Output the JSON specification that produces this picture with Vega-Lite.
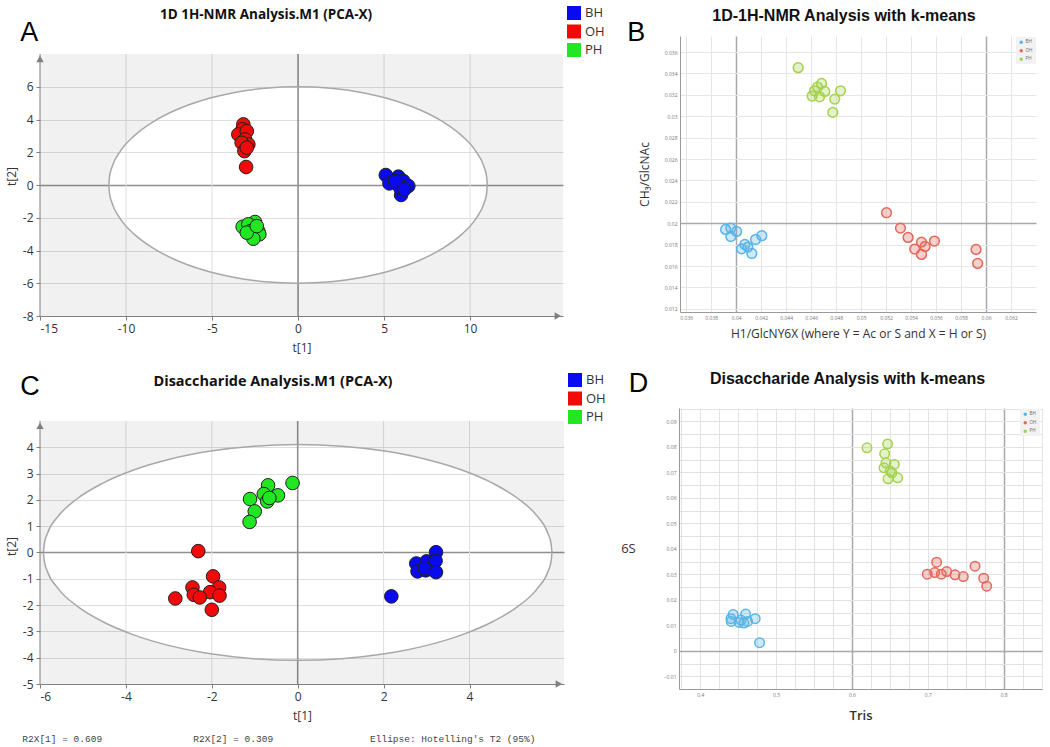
{
  "$schema": "https://vega.github.io/schema/vega-lite/v6.json",
  "padding": {"left": 5, "top": 6, "right": 4, "bottom": 2},
  "config": {
    "view": {"stroke": null},
    "font": "Open Sans",
    "axis": {"labelFont": "Open Sans", "titleFont": "Open Sans", "labelOverlap": false}
  },
  "title": {
    "text": "R2X[1] = 0.609\u00a0\u00a0\u00a0\u00a0\u00a0\u00a0\u00a0\u00a0\u00a0\u00a0\u00a0\u00a0\u00a0\u00a0\u00a0\u00a0R2X[2] = 0.309\u00a0\u00a0\u00a0\u00a0\u00a0\u00a0\u00a0\u00a0\u00a0\u00a0\u00a0\u00a0\u00a0\u00a0\u00a0\u00a0\u00a0Ellipse: Hotelling's T2 (95%)",
    "orient": "bottom", "anchor": "start", "font": "Liberation Mono", "fontSize": 9.5,
    "fontWeight": "normal", "color": "#444444", "offset": 12, "dx": 17
  },
  "datasets": {
    "pcaA": [
      {"g": "OH", "t1": -3.18, "t2": 3.70}, {"g": "OH", "t1": -3.22, "t2": 3.40}, {"g": "OH", "t1": -3.47, "t2": 3.09},
      {"g": "OH", "t1": -2.98, "t2": 3.29}, {"g": "OH", "t1": -3.08, "t2": 2.78}, {"g": "OH", "t1": -2.89, "t2": 2.48},
      {"g": "OH", "t1": -3.28, "t2": 2.58}, {"g": "OH", "t1": -3.12, "t2": 2.07}, {"g": "OH", "t1": -2.98, "t2": 2.28},
      {"g": "OH", "t1": -3.02, "t2": 1.10},
      {"g": "PH", "t1": -2.50, "t2": -2.26}, {"g": "PH", "t1": -3.22, "t2": -2.55}, {"g": "PH", "t1": -2.89, "t2": -2.40},
      {"g": "PH", "t1": -2.31, "t2": -2.81}, {"g": "PH", "t1": -2.75, "t2": -2.81}, {"g": "PH", "t1": -2.25, "t2": -3.01},
      {"g": "PH", "t1": -2.60, "t2": -3.28}, {"g": "PH", "t1": -2.98, "t2": -2.91}, {"g": "PH", "t1": -2.40, "t2": -2.51},
      {"g": "BH", "t1": 5.10, "t2": 0.61}, {"g": "BH", "t1": 5.31, "t2": 0.10}, {"g": "BH", "t1": 5.83, "t2": 0.51},
      {"g": "BH", "t1": 6.12, "t2": 0.24}, {"g": "BH", "t1": 6.41, "t2": -0.06}, {"g": "BH", "t1": 5.99, "t2": -0.61},
      {"g": "BH", "t1": 5.93, "t2": -0.17}, {"g": "BH", "t1": 5.64, "t2": 0.24}, {"g": "BH", "t1": 6.18, "t2": -0.27}
    ],
    "pcaC": [
      {"g": "PH", "t1": -0.12, "t2": 2.64}, {"g": "PH", "t1": -0.69, "t2": 2.55}, {"g": "PH", "t1": -0.79, "t2": 2.22},
      {"g": "PH", "t1": -0.46, "t2": 2.17}, {"g": "PH", "t1": -0.71, "t2": 1.94}, {"g": "PH", "t1": -0.66, "t2": 2.07},
      {"g": "PH", "t1": -1.11, "t2": 2.03}, {"g": "PH", "t1": -1.00, "t2": 1.56}, {"g": "PH", "t1": -1.12, "t2": 1.16},
      {"g": "OH", "t1": -2.315, "t2": 0.05}, {"g": "OH", "t1": -1.97, "t2": -0.91}, {"g": "OH", "t1": -2.45, "t2": -1.33},
      {"g": "OH", "t1": -1.83, "t2": -1.33}, {"g": "OH", "t1": -2.04, "t2": -1.51}, {"g": "OH", "t1": -2.42, "t2": -1.61},
      {"g": "OH", "t1": -2.28, "t2": -1.71}, {"g": "OH", "t1": -1.82, "t2": -1.64}, {"g": "OH", "t1": -2.85, "t2": -1.75},
      {"g": "OH", "t1": -2.00, "t2": -2.18},
      {"g": "BH", "t1": 3.22, "t2": 0.01}, {"g": "BH", "t1": 2.76, "t2": -0.42}, {"g": "BH", "t1": 3.00, "t2": -0.34},
      {"g": "BH", "t1": 3.21, "t2": -0.32}, {"g": "BH", "t1": 2.79, "t2": -0.72}, {"g": "BH", "t1": 2.98, "t2": -0.68},
      {"g": "BH", "t1": 2.96, "t2": -0.60}, {"g": "BH", "t1": 3.22, "t2": -0.75}, {"g": "BH", "t1": 2.18, "t2": -1.67}
    ],
    "kmB": [
      {"g": "PH", "h1": 0.04496, "ch3": 0.03454}, {"g": "PH", "h1": 0.04683, "ch3": 0.03307}, {"g": "PH", "h1": 0.04651, "ch3": 0.03273},
      {"g": "PH", "h1": 0.04627, "ch3": 0.03238}, {"g": "PH", "h1": 0.04709, "ch3": 0.03232}, {"g": "PH", "h1": 0.04835, "ch3": 0.03238},
      {"g": "PH", "h1": 0.04608, "ch3": 0.03189}, {"g": "PH", "h1": 0.04667, "ch3": 0.03182}, {"g": "PH", "h1": 0.04789, "ch3": 0.03160},
      {"g": "PH", "h1": 0.04773, "ch3": 0.03036},
      {"g": "BH", "h1": 0.03915, "ch3": 0.01942}, {"g": "BH", "h1": 0.03957, "ch3": 0.01954}, {"g": "BH", "h1": 0.04003, "ch3": 0.01923},
      {"g": "BH", "h1": 0.03957, "ch3": 0.01876}, {"g": "BH", "h1": 0.04069, "ch3": 0.01801}, {"g": "BH", "h1": 0.04043, "ch3": 0.01761},
      {"g": "BH", "h1": 0.04093, "ch3": 0.01777}, {"g": "BH", "h1": 0.04125, "ch3": 0.01717}, {"g": "BH", "h1": 0.04155, "ch3": 0.01848},
      {"g": "BH", "h1": 0.04205, "ch3": 0.01883},
      {"g": "OH", "h1": 0.05203, "ch3": 0.02098}, {"g": "OH", "h1": 0.05315, "ch3": 0.01954}, {"g": "OH", "h1": 0.05376, "ch3": 0.01867},
      {"g": "OH", "h1": 0.05483, "ch3": 0.01823}, {"g": "OH", "h1": 0.05587, "ch3": 0.01833}, {"g": "OH", "h1": 0.05429, "ch3": 0.01758},
      {"g": "OH", "h1": 0.05512, "ch3": 0.01783}, {"g": "OH", "h1": 0.05483, "ch3": 0.01708}, {"g": "OH", "h1": 0.05920, "ch3": 0.01755},
      {"g": "OH", "h1": 0.05933, "ch3": 0.01624}
    ],
    "kmD": [
      {"g": "PH", "tris": 0.6198, "s6": 0.07957}, {"g": "PH", "tris": 0.6470, "s6": 0.08113}, {"g": "PH", "tris": 0.6431, "s6": 0.07722},
      {"g": "PH", "tris": 0.6448, "s6": 0.07370}, {"g": "PH", "tris": 0.6558, "s6": 0.07305}, {"g": "PH", "tris": 0.6422, "s6": 0.07175},
      {"g": "PH", "tris": 0.6505, "s6": 0.07044}, {"g": "PH", "tris": 0.6527, "s6": 0.06979}, {"g": "PH", "tris": 0.6475, "s6": 0.06744},
      {"g": "PH", "tris": 0.6602, "s6": 0.06784},
      {"g": "OH", "tris": 0.7116, "s6": 0.03472}, {"g": "OH", "tris": 0.6993, "s6": 0.03003}, {"g": "OH", "tris": 0.7090, "s6": 0.03068},
      {"g": "OH", "tris": 0.7178, "s6": 0.03003}, {"g": "OH", "tris": 0.7248, "s6": 0.03107}, {"g": "OH", "tris": 0.7358, "s6": 0.02977},
      {"g": "OH", "tris": 0.7468, "s6": 0.02911}, {"g": "OH", "tris": 0.7622, "s6": 0.03316}, {"g": "OH", "tris": 0.7736, "s6": 0.02846},
      {"g": "OH", "tris": 0.7776, "s6": 0.02533},
      {"g": "BH", "tris": 0.4435, "s6": 0.01425}, {"g": "BH", "tris": 0.4598, "s6": 0.01438}, {"g": "BH", "tris": 0.4404, "s6": 0.01256},
      {"g": "BH", "tris": 0.4409, "s6": 0.01151}, {"g": "BH", "tris": 0.4536, "s6": 0.01203}, {"g": "BH", "tris": 0.4510, "s6": 0.01112},
      {"g": "BH", "tris": 0.4576, "s6": 0.01086}, {"g": "BH", "tris": 0.4624, "s6": 0.01151}, {"g": "BH", "tris": 0.4725, "s6": 0.01256},
      {"g": "BH", "tris": 0.4782, "s6": 0.00317}
    ],
    "ellA": [
      {"half": "up", "t1": -15, "t2": 0}, {"half": "up", "t1": -11, "t2": 0}, {"half": "up", "t1": -10.958, "t2": 0.523},
      {"half": "up", "t1": -10.833, "t2": 1.042}, {"half": "up", "t1": -10.337, "t2": 2.052}, {"half": "up", "t1": -9.526, "t2": 3.0},
      {"half": "up", "t1": -8.426, "t2": 3.857}, {"half": "up", "t1": -7.071, "t2": 4.596}, {"half": "up", "t1": -5.5, "t2": 5.196},
      {"half": "up", "t1": -3.762, "t2": 5.638}, {"half": "up", "t1": -1.91, "t2": 5.909}, {"half": "up", "t1": 0, "t2": 6},
      {"half": "up", "t1": 1.91, "t2": 5.909}, {"half": "up", "t1": 3.762, "t2": 5.638}, {"half": "up", "t1": 5.5, "t2": 5.196},
      {"half": "up", "t1": 7.071, "t2": 4.596}, {"half": "up", "t1": 8.426, "t2": 3.857}, {"half": "up", "t1": 9.526, "t2": 3.0},
      {"half": "up", "t1": 10.337, "t2": 2.052}, {"half": "up", "t1": 10.833, "t2": 1.042}, {"half": "up", "t1": 10.958, "t2": 0.523},
      {"half": "up", "t1": 11, "t2": 0}, {"half": "up", "t1": 15.4, "t2": 0},
      {"half": "lo", "t1": -15, "t2": 0}, {"half": "lo", "t1": -11, "t2": 0}, {"half": "lo", "t1": -10.958, "t2": -0.523},
      {"half": "lo", "t1": -10.833, "t2": -1.042}, {"half": "lo", "t1": -10.337, "t2": -2.052}, {"half": "lo", "t1": -9.526, "t2": -3.0},
      {"half": "lo", "t1": -8.426, "t2": -3.857}, {"half": "lo", "t1": -7.071, "t2": -4.596}, {"half": "lo", "t1": -5.5, "t2": -5.196},
      {"half": "lo", "t1": -3.762, "t2": -5.638}, {"half": "lo", "t1": -1.91, "t2": -5.909}, {"half": "lo", "t1": 0, "t2": -6},
      {"half": "lo", "t1": 1.91, "t2": -5.909}, {"half": "lo", "t1": 3.762, "t2": -5.638}, {"half": "lo", "t1": 5.5, "t2": -5.196},
      {"half": "lo", "t1": 7.071, "t2": -4.596}, {"half": "lo", "t1": 8.426, "t2": -3.857}, {"half": "lo", "t1": 9.526, "t2": -3.0},
      {"half": "lo", "t1": 10.337, "t2": -2.052}, {"half": "lo", "t1": 10.833, "t2": -1.042}, {"half": "lo", "t1": 10.958, "t2": -0.523},
      {"half": "lo", "t1": 11, "t2": 0}, {"half": "lo", "t1": 15.4, "t2": 0}
    ],
    "ellC": [
      {"half": "up", "t1": -6, "t2": 0}, {"half": "up", "t1": -5.92, "t2": 0}, {"half": "up", "t1": -5.897, "t2": 0.357},
      {"half": "up", "t1": -5.83, "t2": 0.712}, {"half": "up", "t1": -5.563, "t2": 1.402}, {"half": "up", "t1": -5.127, "t2": 2.05},
      {"half": "up", "t1": -4.535, "t2": 2.635}, {"half": "up", "t1": -3.805, "t2": 3.141}, {"half": "up", "t1": -2.96, "t2": 3.551},
      {"half": "up", "t1": -2.025, "t2": 3.853}, {"half": "up", "t1": -1.028, "t2": 4.038}, {"half": "up", "t1": 0, "t2": 4.1},
      {"half": "up", "t1": 1.028, "t2": 4.038}, {"half": "up", "t1": 2.025, "t2": 3.853}, {"half": "up", "t1": 2.96, "t2": 3.551},
      {"half": "up", "t1": 3.805, "t2": 3.141}, {"half": "up", "t1": 4.535, "t2": 2.635}, {"half": "up", "t1": 5.127, "t2": 2.05},
      {"half": "up", "t1": 5.563, "t2": 1.402}, {"half": "up", "t1": 5.83, "t2": 0.712}, {"half": "up", "t1": 5.897, "t2": 0.357},
      {"half": "up", "t1": 5.92, "t2": 0}, {"half": "up", "t1": 6.2, "t2": 0},
      {"half": "lo", "t1": -6, "t2": 0}, {"half": "lo", "t1": -5.92, "t2": 0}, {"half": "lo", "t1": -5.897, "t2": -0.357},
      {"half": "lo", "t1": -5.83, "t2": -0.712}, {"half": "lo", "t1": -5.563, "t2": -1.402}, {"half": "lo", "t1": -5.127, "t2": -2.05},
      {"half": "lo", "t1": -4.535, "t2": -2.635}, {"half": "lo", "t1": -3.805, "t2": -3.141}, {"half": "lo", "t1": -2.96, "t2": -3.551},
      {"half": "lo", "t1": -2.025, "t2": -3.853}, {"half": "lo", "t1": -1.028, "t2": -4.038}, {"half": "lo", "t1": 0, "t2": -4.1},
      {"half": "lo", "t1": 1.028, "t2": -4.038}, {"half": "lo", "t1": 2.025, "t2": -3.853}, {"half": "lo", "t1": 2.96, "t2": -3.551},
      {"half": "lo", "t1": 3.805, "t2": -3.141}, {"half": "lo", "t1": 4.535, "t2": -2.635}, {"half": "lo", "t1": 5.127, "t2": -2.05},
      {"half": "lo", "t1": 5.563, "t2": -1.402}, {"half": "lo", "t1": 5.83, "t2": -0.712}, {"half": "lo", "t1": 5.897, "t2": -0.357},
      {"half": "lo", "t1": 5.92, "t2": 0}, {"half": "lo", "t1": 6.2, "t2": 0}
    ],
    "gridA": [
      {"t1": -10, "t2": -8, "t2e": 8}, {"t1": -5, "t2": -8, "t2e": 8}, {"t1": 0, "t2": -8, "t2e": 8},
      {"t1": 5, "t2": -8, "t2e": 8}, {"t1": 10, "t2": -8, "t2e": 8}
    ],
    "axisA": [{"t1": -15, "t2": -8, "t2e": 8}],
    "arrowA": [{"dir": "up", "t1": -15, "t2": 7.7}, {"dir": "right", "t1": 15.1, "t2": -8}],
    "gridC": [
      {"t1": -4, "t2": -5, "t2e": 5}, {"t1": -2, "t2": -5, "t2e": 5}, {"t1": 0, "t2": -5, "t2e": 5},
      {"t1": 2, "t2": -5, "t2e": 5}, {"t1": 4, "t2": -5, "t2e": 5}
    ],
    "axisC": [{"t1": -6, "t2": -5, "t2e": 5}],
    "arrowC": [{"dir": "up", "t1": -6, "t2": 4.81}, {"dir": "right", "t1": 6.08, "t2": -5}]
  },
  "resolve": {"scale": {"x": "independent", "y": "independent", "color": "independent", "fill": "independent", "stroke": "independent", "shape": "independent"}},
  "spacing": 16,
  "vconcat": [
    {
      "columns": 2, "align": "none", "spacing": 22,
      "resolve": {"scale": {"x": "independent", "y": "independent", "color": "independent", "fill": "independent", "stroke": "independent", "shape": "independent"}},
      "concat": [
        {
          "title": {"text": "A", "anchor": "start", "font": "Liberation Sans", "fontSize": 27, "fontWeight": "normal", "color": "#000000", "offset": -41, "dx": 15},
          "vconcat": [
            {
              "width": 523, "height": 280,
              "title": {"text": "1D 1H-NMR Analysis.M1 (PCA-X)", "font": "Open Sans", "fontSize": 13.5, "fontWeight": "bold", "color": "#111111", "anchor": "start", "frame": "group", "offset": 15, "dx": 120},
              "encoding": {
                "x": {"field": "t1", "type": "quantitative", "title": "t[1]",
                  "scale": {"domain": [-15, 15.4], "nice": false, "zero": false},
                  "axis": {"values": [-15, -10, -5, 0, 5, 10], "labelExpr": "'' + datum.value", "grid": false, "labelFontSize": 12, "labelColor": "#333333", "titleFontSize": 12, "titleFontWeight": "normal", "titleColor": "#333333", "titlePadding": 8,
                    "domainColor": "#7f7f7f", "tickColor": "#7f7f7f", "tickSize": 4, "labelPadding": 3}},
                "y": {"field": "t2", "type": "quantitative", "title": "t[2]",
                  "scale": {"domain": [-8, 9.1], "nice": false, "zero": false},
                  "axis": {"values": [-8, -6, -4, -2, 0, 2, 4, 6], "labelExpr": "'' + datum.value", "domain": false, "labelFontSize": 12, "labelColor": "#333333", "titleFontSize": 12, "titleFontWeight": "normal", "titleColor": "#333333", "titlePadding": 4,
                    "tickColor": "#7f7f7f", "tickSize": 4, "labelPadding": 3,
                    "gridColor": {"condition": {"test": "datum.value === 0", "value": "#8f8f8f"}, "value": "#dedede"},
                    "gridWidth": {"condition": {"test": "datum.value === 0", "value": 1.6}, "value": 1}}}
              },
              "layer": [
                {
                  "data": {"name": "gridA"},
                  "mark": {"type": "rule"},
                  "encoding": {
                    "y2": {"field": "t2e"},
                    "color": {"condition": {"test": "datum.t1 === 0", "value": "#8f8f8f"}, "value": "#dedede"},
                    "strokeWidth": {"condition": {"test": "datum.t1 === 0", "value": 1.6}, "value": 1}
                  }
                },
                {
                  "data": {"name": "ellA"},
                  "transform": [{"filter": "datum.half === 'up'"}],
                  "mark": {"type": "area", "interpolate": "monotone", "fill": "#000000", "fillOpacity": 0.055},
                  "encoding": {"y2": {"datum": 8}}
                },
                {
                  "data": {"name": "ellA"},
                  "transform": [{"filter": "datum.half === 'lo'"}],
                  "mark": {"type": "area", "interpolate": "monotone", "fill": "#000000", "fillOpacity": 0.055},
                  "encoding": {"y2": {"datum": -8}}
                },
                {
                  "data": {"name": "ellA"},
                  "transform": [{"filter": "abs(datum.t1) <= 11"}],
                  "mark": {"type": "line", "interpolate": "monotone", "stroke": "#a8a8a8", "strokeWidth": 1.5},
                  "encoding": {"detail": {"field": "half", "type": "nominal"}}
                },
                {
                  "data": {"name": "axisA"},
                  "mark": {"type": "rule", "color": "#7f7f7f", "strokeWidth": 1},
                  "encoding": {"y2": {"field": "t2e"}}
                },
                {
                  "data": {"name": "arrowA"},
                  "mark": {"type": "point", "filled": true, "color": "#7f7f7f", "size": 55, "opacity": 1},
                  "encoding": {"shape": {"field": "dir", "type": "nominal", "scale": {"domain": ["up", "right"], "range": ["triangle-up", "triangle-right"]}, "legend": null}}
                },
                {
                  "data": {"name": "pcaA"},
                  "mark": {"type": "point", "shape": "circle", "filled": true, "size": 185, "stroke": "#1f1f1f", "strokeWidth": 1, "opacity": 1},
                  "encoding": {
                    "color": {"field": "g", "type": "nominal",
                      "scale": {"domain": ["BH", "OH", "PH"], "range": ["#0a0af0", "#f00a0a", "#22e622"]},
                      "legend": {"orient": "none", "legendX": 527, "legendY": -30, "title": null, "symbolType": "square", "symbolSize": 196, "symbolStrokeWidth": 0, "labelFontSize": 13, "labelFont": "Open Sans", "labelColor": "#333333", "rowPadding": 4.5, "padding": 0, "labelOffset": 4}}
                  }
                }
              ]
            }
          ]
        },
        {
          "title": {"text": "B", "anchor": "start", "font": "Liberation Sans", "fontSize": 27, "fontWeight": "normal", "color": "#000000", "offset": -39, "dx": -11},
          "vconcat": [
            {
              "width": 356, "height": 276,
              "title": {"text": "1D-1H-NMR Analysis with k-means", "font": "Liberation Sans", "fontSize": 16, "fontWeight": "bold", "color": "#111111", "anchor": "middle", "frame": "group", "offset": 12, "dx": -14},
              "data": {"name": "kmB"},
              "mark": {"type": "point", "shape": "circle", "filled": true, "size": 95, "strokeWidth": 1.5, "fillOpacity": 0.3},
              "encoding": {
                "x": {"field": "h1", "type": "quantitative", "title": "H1/GlcNY6X (where Y = Ac or S and X = H or S)",
                  "scale": {"domain": [0.0355, 0.064], "nice": false, "zero": false},
                  "axis": {"values": [0.036, 0.038, 0.04, 0.042, 0.044, 0.046, 0.048, 0.05, 0.052, 0.054, 0.056, 0.058, 0.06, 0.062],
                    "format": "~g", "labelFontSize": 5, "labelColor": "#777777", "ticks": false, "labelPadding": 3,
                    "domainColor": "#9a9a9a", "titleFontSize": 12, "titleFontWeight": "normal", "titleColor": "#333333", "titlePadding": 8,
                    "gridColor": {"condition": {"test": "datum.value === 0.04 || datum.value === 0.06", "value": "#a9a9a9"}, "value": "#e6e6e6"},
                    "gridWidth": {"condition": {"test": "datum.value === 0.04 || datum.value === 0.06", "value": 1.5}, "value": 1}}},
                "y": {"field": "ch3", "type": "quantitative", "title": "CH₃/GlcNAc",
                  "scale": {"domain": [0.0117, 0.0375], "nice": false, "zero": false},
                  "axis": {"values": [0.012, 0.014, 0.016, 0.018, 0.02, 0.022, 0.024, 0.026, 0.028, 0.03, 0.032, 0.034, 0.036],
                    "format": "~g", "labelFontSize": 5, "labelColor": "#777777", "ticks": false, "labelPadding": 3,
                    "domainColor": "#9a9a9a", "titleFontSize": 12, "titleFontWeight": "normal", "titleColor": "#333333", "titlePadding": 13,
                    "gridColor": {"condition": {"test": "datum.value === 0.02", "value": "#a9a9a9"}, "value": "#e6e6e6"},
                    "gridWidth": {"condition": {"test": "datum.value === 0.02", "value": 1.5}, "value": 1}}},
                "fill": {"field": "g", "type": "nominal",
                  "scale": {"domain": ["BH", "OH", "PH"], "range": ["#5ab4e6", "#e4675b", "#a4d24f"]},
                  "legend": {"orient": "none", "legendX": 336, "legendY": 1, "title": null, "symbolType": "circle", "symbolSize": 12, "symbolStrokeWidth": 0, "symbolOpacity": 1, "labelFontSize": 4.5, "labelColor": "#666666", "fillColor": "#f2f2f2", "padding": 3, "rowPadding": 3.5, "labelOffset": 2}},
                "stroke": {"field": "g", "type": "nominal",
                  "scale": {"domain": ["BH", "OH", "PH"], "range": ["#5ab4e6", "#e4675b", "#a4d24f"]},
                  "legend": null}
              }
            }
          ]
        }
      ]
    },
    {
      "columns": 2, "align": "none", "spacing": 14,
      "resolve": {"scale": {"x": "independent", "y": "independent", "color": "independent", "fill": "independent", "stroke": "independent", "shape": "independent"}},
      "concat": [
        {
          "title": {"text": "C", "anchor": "start", "font": "Liberation Sans", "fontSize": 27, "fontWeight": "normal", "color": "#000000", "offset": -28, "dx": 15},
          "vconcat": [
            {
              "width": 524, "height": 276,
              "title": {"text": "Disaccharide Analysis.M1 (PCA-X)", "font": "Open Sans", "fontSize": 14.5, "fontWeight": "bold", "color": "#111111", "anchor": "middle", "frame": "group", "offset": 19, "dx": -29},
              "encoding": {
                "x": {"field": "t1", "type": "quantitative", "title": "t[1]",
                  "scale": {"domain": [-6, 6.2], "nice": false, "zero": false},
                  "axis": {"values": [-6, -4, -2, 0, 2, 4], "labelExpr": "'' + datum.value", "grid": false, "labelFontSize": 12, "labelColor": "#333333", "titleFontSize": 12, "titleFontWeight": "normal", "titleColor": "#333333", "titlePadding": 8,
                    "domainColor": "#7f7f7f", "tickColor": "#7f7f7f", "tickSize": 4, "labelPadding": 3}},
                "y": {"field": "t2", "type": "quantitative", "title": "t[2]",
                  "scale": {"domain": [-5, 5.49], "nice": false, "zero": false},
                  "axis": {"values": [-5, -4, -3, -2, -1, 0, 1, 2, 3, 4], "labelExpr": "'' + datum.value", "domain": false, "labelFontSize": 12, "labelColor": "#333333", "titleFontSize": 12, "titleFontWeight": "normal", "titleColor": "#333333", "titlePadding": 4,
                    "tickColor": "#7f7f7f", "tickSize": 4, "labelPadding": 3,
                    "gridColor": {"condition": {"test": "datum.value === 0", "value": "#8f8f8f"}, "value": "#dedede"},
                    "gridWidth": {"condition": {"test": "datum.value === 0", "value": 1.6}, "value": 1}}}
              },
              "layer": [
                {
                  "data": {"name": "gridC"},
                  "mark": {"type": "rule"},
                  "encoding": {
                    "y2": {"field": "t2e"},
                    "color": {"condition": {"test": "datum.t1 === 0", "value": "#8f8f8f"}, "value": "#dedede"},
                    "strokeWidth": {"condition": {"test": "datum.t1 === 0", "value": 1.6}, "value": 1}
                  }
                },
                {
                  "data": {"name": "ellC"},
                  "transform": [{"filter": "datum.half === 'up'"}],
                  "mark": {"type": "area", "interpolate": "monotone", "fill": "#000000", "fillOpacity": 0.055},
                  "encoding": {"y2": {"datum": 5}}
                },
                {
                  "data": {"name": "ellC"},
                  "transform": [{"filter": "datum.half === 'lo'"}],
                  "mark": {"type": "area", "interpolate": "monotone", "fill": "#000000", "fillOpacity": 0.055},
                  "encoding": {"y2": {"datum": -5}}
                },
                {
                  "data": {"name": "ellC"},
                  "transform": [{"filter": "abs(datum.t1) <= 5.92"}],
                  "mark": {"type": "line", "interpolate": "monotone", "stroke": "#a8a8a8", "strokeWidth": 1.5},
                  "encoding": {"detail": {"field": "half", "type": "nominal"}}
                },
                {
                  "data": {"name": "axisC"},
                  "mark": {"type": "rule", "color": "#7f7f7f", "strokeWidth": 1},
                  "encoding": {"y2": {"field": "t2e"}}
                },
                {
                  "data": {"name": "arrowC"},
                  "mark": {"type": "point", "filled": true, "color": "#7f7f7f", "size": 55, "opacity": 1},
                  "encoding": {"shape": {"field": "dir", "type": "nominal", "scale": {"domain": ["up", "right"], "range": ["triangle-up", "triangle-right"]}, "legend": null}}
                },
                {
                  "data": {"name": "pcaC"},
                  "mark": {"type": "point", "shape": "circle", "filled": true, "size": 185, "stroke": "#1f1f1f", "strokeWidth": 1, "opacity": 1},
                  "encoding": {
                    "color": {"field": "g", "type": "nominal",
                      "scale": {"domain": ["BH", "OH", "PH"], "range": ["#0a0af0", "#f00a0a", "#22e622"]},
                      "legend": {"orient": "none", "legendX": 528, "legendY": -35, "title": null, "symbolType": "square", "symbolSize": 196, "symbolStrokeWidth": 0, "labelFontSize": 13, "labelFont": "Open Sans", "labelColor": "#333333", "rowPadding": 4.5, "padding": 0, "labelOffset": 4}}
                  }
                }
              ]
            }
          ]
        },
        {
          "title": {"text": "D", "anchor": "start", "font": "Liberation Sans", "fontSize": 27, "fontWeight": "normal", "color": "#000000", "offset": -27, "dx": 8},
          "vconcat": [
            {
              "width": 363, "height": 281,
              "title": {"text": "Disaccharide Analysis with k-means", "font": "Liberation Sans", "fontSize": 16, "fontWeight": "bold", "color": "#111111", "anchor": "middle", "frame": "group", "offset": 20, "dx": -13},
              "data": {"name": "kmD"},
              "mark": {"type": "point", "shape": "circle", "filled": true, "size": 90, "strokeWidth": 1.5, "fillOpacity": 0.3},
              "encoding": {
                "x": {"field": "tris", "type": "quantitative", "title": "Tris",
                  "scale": {"domain": [0.372, 0.8505], "nice": false, "zero": false},
                  "axis": {"values": [0.375, 0.4, 0.425, 0.45, 0.475, 0.5, 0.525, 0.55, 0.575, 0.6, 0.625, 0.65, 0.675, 0.7, 0.725, 0.75, 0.775, 0.8, 0.825, 0.85],
                    "format": "~g", "labelExpr": "abs(datum.value*10 - round(datum.value*10)) < 0.001 ? datum.label : ''",
                    "labelFontSize": 5, "labelColor": "#777777", "ticks": false, "labelPadding": 3,
                    "domainColor": "#9a9a9a", "titleFontSize": 13, "titleFontWeight": 600, "titleColor": "#333333", "titlePadding": 12,
                    "gridColor": {"condition": {"test": "datum.value === 0.6 || datum.value === 0.8", "value": "#a9a9a9"}, "value": "#e3e3e3"},
                    "gridWidth": {"condition": {"test": "datum.value === 0.6 || datum.value === 0.8", "value": 1.5}, "value": 1}}},
                "y": {"field": "s6", "type": "quantitative", "title": "6S",
                  "scale": {"domain": [-0.015, 0.0952], "nice": false, "zero": false},
                  "axis": {"values": [-0.01, -0.005, 0, 0.005, 0.01, 0.015, 0.02, 0.025, 0.03, 0.035, 0.04, 0.045, 0.05, 0.055, 0.06, 0.065, 0.07, 0.075, 0.08, 0.085, 0.09, 0.095],
                    "format": "~g", "labelExpr": "abs(datum.value*100 - round(datum.value*100)) < 0.001 ? datum.label : ''",
                    "labelFontSize": 5, "labelColor": "#777777", "ticks": false, "labelPadding": 3,
                    "domainColor": "#9a9a9a", "titleFontSize": 13, "titleFontWeight": "normal", "titleColor": "#333333", "titlePadding": 28, "titleAngle": 0, "titleBaseline": "middle", "titleAlign": "right",
                    "gridColor": {"condition": {"test": "datum.value === 0", "value": "#a9a9a9"}, "value": "#e3e3e3"},
                    "gridWidth": {"condition": {"test": "datum.value === 0", "value": 1.5}, "value": 1}}},
                "fill": {"field": "g", "type": "nominal",
                  "scale": {"domain": ["BH", "OH", "PH"], "range": ["#5ab4e6", "#e4675b", "#a4d24f"]},
                  "legend": {"orient": "none", "legendX": 341, "legendY": 1, "title": null, "symbolType": "circle", "symbolSize": 12, "symbolStrokeWidth": 0, "symbolOpacity": 1, "labelFontSize": 4.5, "labelColor": "#666666", "fillColor": "#f2f2f2", "padding": 3, "rowPadding": 3.5, "labelOffset": 2}},
                "stroke": {"field": "g", "type": "nominal",
                  "scale": {"domain": ["BH", "OH", "PH"], "range": ["#5ab4e6", "#e4675b", "#a4d24f"]},
                  "legend": null}
              }
            }
          ]
        }
      ]
    }
  ]
}
